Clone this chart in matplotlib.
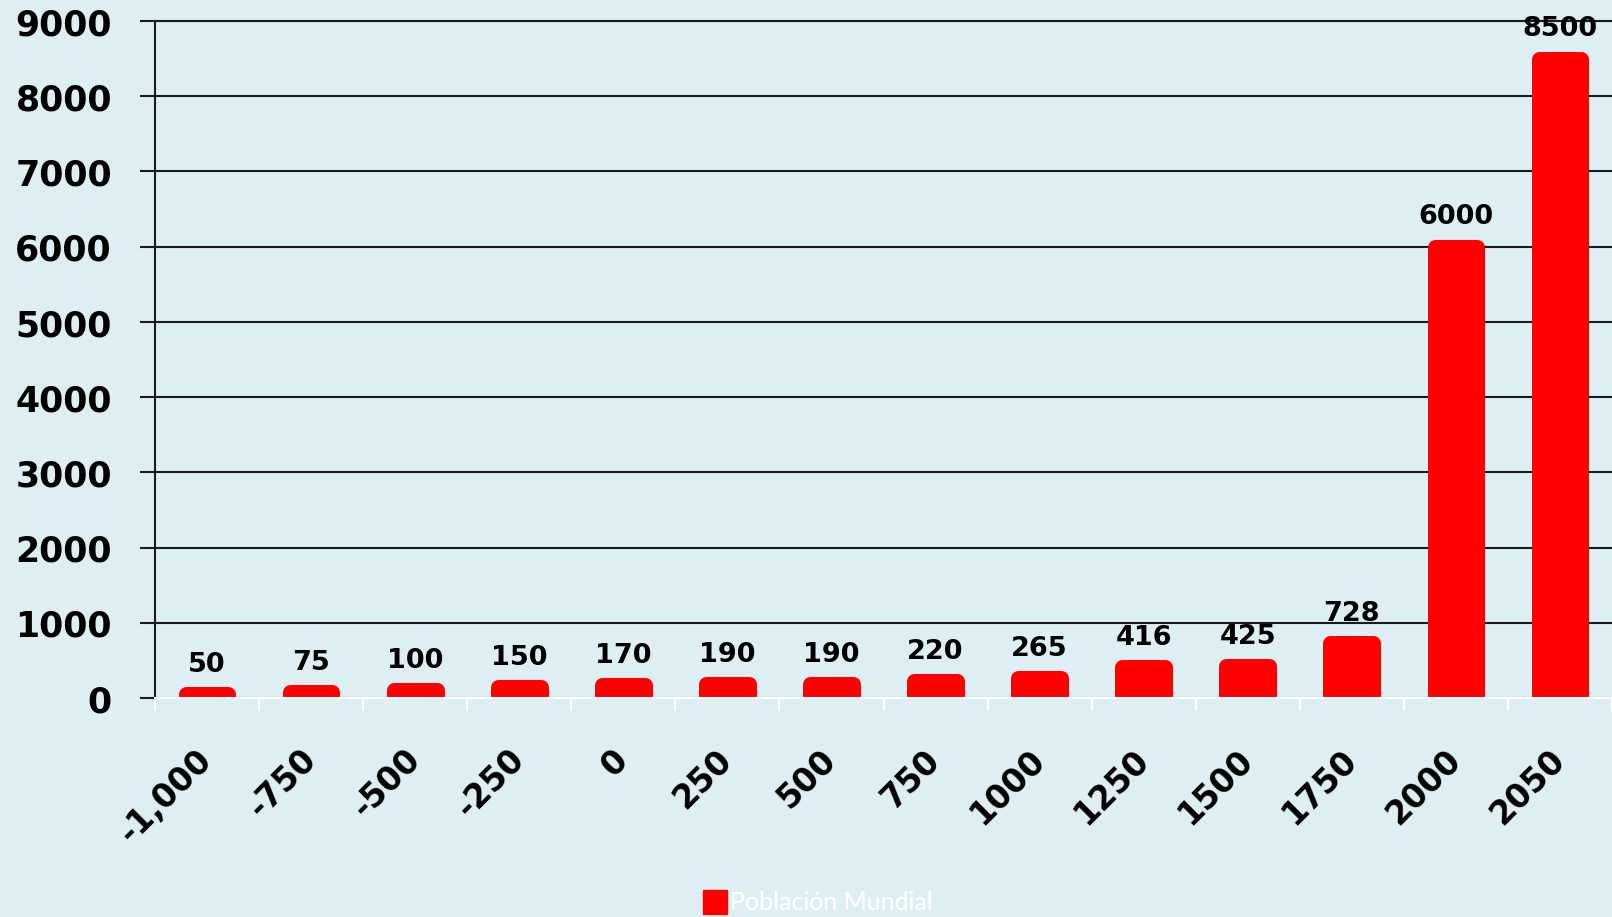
import matplotlib
matplotlib.use("Agg")
import matplotlib.pyplot as plt
import matplotlib.transforms as mtransforms
from matplotlib.lines import Line2D
import numpy as np

years = ['-1,000', '-750', '-500', '-250', '0', '250', '500', '750',
         '1000', '1250', '1500', '1750', '2000', '2050']
population = [50, 75, 100, 150, 170, 190, 190, 220, 265, 416, 425, 728, 6000, 8500]
yticks = [0, 1000, 2000, 3000, 4000, 5000, 6000, 7000, 8000, 9000]
series_name = 'Población Mundial'

BG = '#DEEFF3'
RED = '#FF0000'

plt.rcParams['font.family'] = ['DejaVu Sans']

fig = plt.figure(figsize=(16.12, 9.17), dpi=100, facecolor=BG)
ax = fig.add_axes([155/1612, 1 - 698/917, 1 - 155/1612, (698 - 21)/917])
ax.set_facecolor(BG)

x = np.arange(len(years))
bars = ax.bar(x, population, width=0.41, color=RED, edgecolor=RED,
              linewidth=10.8, joinstyle='round', zorder=2)

for xi, v in zip(x, population):
    ax.annotate(str(v), xy=(xi, v), xytext=(0, 21), textcoords='offset points',
                ha='center', va='center', fontsize=19.5, fontweight='bold',
                color='black', zorder=4)

ax.set_xlim(-0.5, len(years) - 0.5)
ax.set_ylim(0, 9000)
ax.set_yticks(yticks)
ax.set_yticklabels([str(t) for t in yticks], fontsize=25, fontweight='bold')
ax.tick_params(axis='y', direction='out', length=11, width=1.5, color='#1a1a1a', pad=20)
shift = mtransforms.ScaledTranslation(0, -3/72, fig.dpi_scale_trans)
for lbl in ax.get_yticklabels():
    lbl.set_va('center')
    lbl.set_transform(lbl.get_transform() + shift)

ax.set_xticks(x)
ax.set_xticklabels(years, fontsize=23.5, fontweight='bold')
ax.tick_params(axis='x', which='major', length=0, pad=41)
plt.setp(ax.get_xticklabels(), rotation=45, ha='right', va='center', rotation_mode='anchor')
ax.set_xticks(np.arange(len(years) + 1) - 0.5, minor=True)
ax.tick_params(axis='x', which='minor', direction='out', length=9.4, width=1.5, color='white')

ax.set_axisbelow(True)
ax.yaxis.grid(True, color='#1a1a1a', linewidth=1.5)
ax.xaxis.grid(False)

ax.spines['left'].set_color('#1a1a1a')
ax.spines['left'].set_linewidth(1.5)
ax.spines['top'].set_color('#1a1a1a')
ax.spines['top'].set_linewidth(1.5)
ax.spines['right'].set_visible(False)
ax.spines['bottom'].set_color('white')
ax.spines['bottom'].set_linewidth(1.5)
ax.spines['bottom'].set_zorder(5)

handle = Line2D([], [], marker='s', linestyle='', markersize=17,
                markerfacecolor=RED, markeredgecolor=RED)
leg = fig.legend([handle], [series_name], loc='center',
                 bbox_to_anchor=(0.507, 1 - 903/917), frameon=False,
                 handlelength=1.0, handletextpad=0.1,
                 prop={'family': 'Lato', 'size': 18})
for t in leg.get_texts():
    t.set_color('white')

fig.savefig('out.png', dpi=100, facecolor=BG)
